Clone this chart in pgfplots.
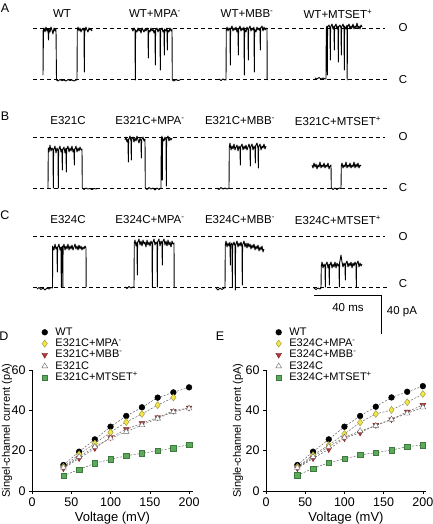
\documentclass[border=0pt]{standalone}
\usepackage{fontspec}
\setmainfont{Liberation Sans}
\usepackage{pgfplots}
\pgfplotsset{compat=1.18}
\definecolor{ylw}{HTML}{F2E64A}
\definecolor{ylwd}{HTML}{9A9230}
\definecolor{mbb}{HTML}{B03A3A}
\definecolor{mbbd}{HTML}{7A2222}
\definecolor{grn}{HTML}{5DAA5D}
\definecolor{grnd}{HTML}{3B7A3B}
\newcommand{\fs}[1]{\fontsize{#1}{#1}\selectfont}
\pgfplotsset{
  tr/.style={black, line width=0.9pt, line join=round},
  dl/.style={black, line width=0.6pt, dash pattern=on 4pt off 3pt},
  fit/.style={black!65, line width=0.45pt, dash pattern=on 2pt off 1.5pt, forget plot},
  sWT/.style={only marks, mark=*, mark size=2.9pt, mark options={fill=black, draw=black}},
  sMPA/.style={only marks, mark=diamond*, mark size=3.5pt, mark options={fill=ylw, draw=ylwd, line width=0.4pt}},
  sMBB/.style={only marks, mark=triangle*, mark size=3.3pt, mark options={fill=mbb, draw=mbbd, rotate=180, line width=0.4pt}},
  sCYS/.style={only marks, mark=triangle*, mark size=3.3pt, mark options={fill=white, draw=black!60, line width=0.4pt}},
  sMTS/.style={only marks, mark=square*, mark size=2.7pt, mark options={fill=grn, draw=grnd, line width=0.4pt}},
  ivaxis/.style={
    scale only axis, height=121pt,
    xmin=0, ymin=0, ymax=60,
    axis x line*=bottom, axis y line*=left,
    axis line style={line width=0.6pt},
    tick align=outside, major tick length=3pt,
    tick style={line width=0.6pt, black},
    xtick={0,50,100,150,200}, ytick={0,20,40,60},
    /pgf/number format/assume math mode=true,
    tick label style={font=\fs{12.5}},
    xlabel={Voltage (mV)},
    every axis x label/.style={at={(axis description cs:0.5,-0.222)}, anchor=center, font=\fs{13}},
    clip=false,
    legend style={at={(axis description cs:0.06,1.36)}, anchor=north west,
      draw=none, fill=none, inner sep=0pt, row sep=0pt,
      font=\fs{11},
      nodes={inner sep=0.3pt, text height=8.2pt, text depth=2.5pt},
      /tikz/every odd column/.append style={column sep=7.5pt}},
    legend cell align=left,
  },
}
\begin{document}
\begin{tikzpicture}
\useasboundingbox (0,0) rectangle (432pt,-524pt);
% ---------------- traces A, B, C ----------------
\begin{axis}[at={(0pt,0pt)}, anchor=north west, scale only axis,
  width=432pt, height=330pt, xmin=0, xmax=432, ymin=0, ymax=330,
  y dir=reverse, hide axis, clip=false]
\node[font=\fs{12.5}] at (axis cs:5,8) {A};
\node[font=\fs{12.5}] at (axis cs:5,116) {B};
\node[font=\fs{12.5}] at (axis cs:5,215) {C};
\begin{scope}[every node/.style={font=\fs{11.5}}]
\node at (axis cs:62,14) {WT};
\node at (axis cs:155,14) {WT+MPA\textsuperscript{-}};
\node at (axis cs:247,14) {WT+MBB\textsuperscript{-}};
\node at (axis cs:338,14) {WT+MTSET\textsuperscript{+}};
\node at (axis cs:68,121) {E321C};
\node at (axis cs:150,121) {E321C+MPA\textsuperscript{-}};
\node at (axis cs:240,121) {E321C+MBB\textsuperscript{-}};
\node at (axis cs:338,121) {E321C+MTSET\textsuperscript{+}};
\node at (axis cs:68,220) {E324C};
\node at (axis cs:150,220) {E324C+MPA\textsuperscript{-}};
\node at (axis cs:240,220) {E324C+MBB\textsuperscript{-}};
\node at (axis cs:338,220) {E324C+MTSET\textsuperscript{+}};
\node at (axis cs:403,28) {O};
\node at (axis cs:403,80) {C};
\node at (axis cs:403,137) {O};
\node at (axis cs:403,188) {C};
\node at (axis cs:403,237) {O};
\node at (axis cs:403,284) {C};
\node at (axis cs:348,308) {40 ms};
\node at (axis cs:402,312) {40 pA};
\end{scope}
\addplot[dl] coordinates {(33,28)(385,28)};
\addplot[dl] coordinates {(33,79.5)(388,79.5)};
\addplot[dl] coordinates {(33,137)(385,137)};
\addplot[dl] coordinates {(33,188)(388,188)};
\addplot[dl] coordinates {(33,236)(385,236)};
\addplot[dl] coordinates {(33,287)(388,287)};
\addplot[black, line width=0.7pt] coordinates {(314,295)(381,295)(381,334)};
% A1 WT
\addplot[tr] coordinates {(43,30)(43,75)(43.5,30)(44,28)(45,32)(46,27)(47,31)(48,29)(48.5,40)(49,29)(50,32)(51,27)(52,30)(53,34)(54,28)(55,31)(56,29)(56.5,80)(58,81)(60,79.5)(62,80.5)(64,80)(66,81)(68,79.5)(70,80.5)(72,80)(74,81)(76,80)(77,80)(77.3,30)(78,27)(79,31)(80,28)(81,32)(82,29)(83,30)(84,28)(84.3,72)(84.6,29)(85,31)(86,27)(87,30)(88,32)(89,28)(90,30)(91,29)(92,31)};
% A2 WT+MPA
\addplot[tr] coordinates {(132,29)(133,31)(134,28)(135,30)(135.3,80)(135.6,30)(137,32)(138,28)(139,31)(140,29)(141,33)(142,28)(143,30)(144,32)(145,29)(146,31)(147,28)(148,30)(148.3,58)(148.6,30)(150,32)(151,28)(152,31)(153,29)(154,33)(155,30)(155.3,65)(155.6,30)(157,28)(158,32)(159,29)(160,31)(160.3,70)(160.6,30)(162,28)(163,32)(164,30)(164.3,55)(164.6,29)(166,31)(167,28)(167.3,50)(167.6,30)(169,32)(170,28)(171,31)(172,29)(172.3,80)(174,81)(176,79.5)(178,80.5)(180,80)};
% A3 WT+MBB
\addplot[tr] coordinates {(219,79)(221,80.5)(223,79)(225,80)(226,80)(226.3,30)(227,27)(228,31)(229,28)(230,30)(230.3,65)(230.6,29)(232,26)(233,31)(234,28)(235,30)(236,27)(237,32)(238,29)(238.3,55)(238.6,29)(240,26)(241,31)(242,28)(243,30)(244,27)(244.3,75)(244.6,29)(246,32)(247,27)(248,30)(248.3,60)(248.6,29)(250,26)(251,31)(252,28)(253,30)(254,27)(254.3,72)(254.6,29)(256,32)(257,27)(258,30)(259,28)(260,31)(260.3,50)(260.6,28)(262,26)(263,31)(264,27)(265,30)(266,28)(267,29)(267.2,80)};
% A4 WT+MTSET
\addplot[tr] coordinates {(315,78)(317,79)(319,77.5)(321,79)(323,78)(325,79)(326,79)(326.3,28)(327,26)(327.3,75)(327.6,27)(329,25)(330,28)(330.3,60)(330.6,27)(332,24)(333,29)(334,26)(334.3,50)(334.6,27)(336,24)(337,29)(338,26)(338.3,62)(338.6,27)(340,25)(341,28)(341.3,55)(341.6,27)(343,24)(344,28)(344.3,70)(344.6,26)(346,29)(347,25)(347.2,80)(347.5,27)(349,24)(350,29)(351,26)(352,28)(353,24)(354,29)(355,26)(356,28)(357,23)(358,28)(359,26)(360,29)(361,25)(362,27)};
% B1 E321C
\addplot[tr] coordinates {(48,188)(48.3,148)(49,152)(50,145)(51,151)(52,148)(53,150)(53.3,188)(53.6,150)(55,146)(56,153)(57,148)(58,151)(58.3,188)(58.6,150)(60,146)(61,152)(62,149)(62.3,170)(62.6,150)(64,147)(65,153)(66,148)(66.3,172)(66.6,150)(68,146)(69,152)(70,148)(71,151)(72,146)(73,152)(74,149)(74.3,165)(74.6,150)(76,146)(77,152)(78,148)(79,151)(80,147)(81,150)(82,149)(82.3,188)(84,189.5)(86,188)(88,189)(90,188.5)(92,189.5)(94,188.5)(96,189)(97,188.5)};
% B2 E321C+MPA
\addplot[tr] coordinates {(125,140)(126,137)(127,142)(128,139)(128.3,162)(128.6,140)(130,136)(131,141)(131.3,160)(131.6,139)(133,137)(134,142)(135,138)(136,141)(137,136)(138,140)(139,143)(140,138)(141,141)(141.3,158)(141.6,140)(143,137)(144,141)(145,139)(145.3,188)(147,189.5)(149,187.5)(151,189)(153,188)(155,190)(157,188)(159,189.5)(161,188)(161.3,139)(162,136)(162.3,180)(162.6,138)(164,141)(165,137)(166,140)(166.3,186)(166.6,139)(168,136)(169,141)(170,138)(171,140)(172,138)};
% B3 E321C+MBB
\addplot[tr] coordinates {(217,188)(219,189.5)(221,187.5)(223,189)(225,188)(227,189)(229,188)(229.3,147)(230,143)(231,150)(232,146)(233,149)(234,144)(235,150)(236,147)(237,145)(238,151)(239,146)(240,149)(240.3,165)(240.6,147)(242,144)(243,150)(244,146)(245,149)(246,145)(247,150)(248,147)(249,144)(250,149)(250.3,166)(250.6,147)(252,144)(253,150)(254,146)(255,149)(255.3,163)(255.6,146)(257,143)(258,148)(258.3,168)(258.6,147)(260,144)(261,150)(262,146)(263,148)(264,144)(265,149)(266,146)};
% B4 E321C+MTSET
\addplot[tr] coordinates {(312,165)(313,168)(314,163)(315,167)(316,164)(317,169)(318,165)(319,167)(320,162)(321,168)(322,165)(323,167)(324,163)(325,168)(326,165)(327,167)(328,163)(329,169)(330,166)(331,165)(331.3,188)(333,189.5)(335,188)(337,189.5)(339,188)(341,188.5)(341.3,166)(342,163)(343,168)(344,165)(345,167)(346,162)(347,168)(348,165)(349,167)(350,163)(351,168)(352,165)(353,167)(354,162)(355,168)(356,164)(357,167)(358,163)(359,168)(360,165)(361,166)};
% C1 E324C
\addplot[tr] coordinates {(37,289)(39,287.5)(41,289.5)(43,288)(45,290)(47,288)(49,289)(51,287.5)(52.5,288)(52.7,246)(54,250)(55,244)(56,249)(57,247)(57.3,272)(57.6,248)(59,244)(60,250)(61,247)(61.3,287)(61.6,249)(62.5,246)(62.8,287)(63.1,248)(64,244)(65,250)(66,246)(67,249)(68,244)(69,250)(70,246)(71,249)(72,245)(73,250)(74,247)(75,244)(76,249)(77,246)(78,250)(79,245)(80,249)(81,246)(82,250)(83,247)(84,249)(85,246)(86,248)(86.2,287)};
% C2 E324C+MPA
\addplot[tr] coordinates {(125,287)(127,288.5)(129,286.5)(131,288)(133,287)(134,287)(134.3,243)(135,240)(136,246)(137,242)(137.3,275)(137.6,243)(139,239)(140,245)(141,241)(142,246)(143,240)(144,244)(145,242)(146,247)(147,240)(148,245)(149,242)(150,246)(151,241)(152,244)(152.3,287)(152.6,243)(154,239)(155,245)(156,242)(157,244)(157.3,287)(157.6,242)(159,239)(160,246)(161,241)(162,244)(162.3,265)(162.6,242)(164,239)(165,245)(166,241)(167,246)(168,240)(169,245)(170,242)(171,247)(172,241)(173,244)(174,243)(174.2,287)};
% C3 E324C+MBB
\addplot[tr] coordinates {(216,288)(218,290)(220,288)(222,289.5)(224,288)(225,288)(225.3,245)(226,241)(227,247)(228,243)(229,246)(230,242)(230.3,265)(230.6,245)(232,243)(232.3,287)(232.6,246)(234,242)(235,246)(235.3,290)(235.6,245)(237,241)(238,247)(239,243)(240,246)(241,242)(242,247)(242.3,285)(242.6,245)(244,241)(245,247)(246,243)(247,248)(248,243)(249,247)(250,244)(251,249)(252,245)(253,248)(254,244)(255,250)(256,246)(257,249)(258,245)(259,251)(260,247)(261,250)(262,246)(263,252)(264,249)};
% C4 E324C+MTSET
\addplot[tr] coordinates {(314,288)(316,289.5)(318,288)(320,289)(321,288)(321.3,266)(322,262)(323,268)(324,264)(325,267)(325.3,287)(325.6,265)(327,262)(328,268)(329,264)(329.3,285)(329.6,266)(331,262)(332,268)(333,264)(334,267)(335,262)(336,268)(337,263)(338,266)(339,264)(339.3,287)(339.6,263)(341,255)(342,262)(343,267)(344,263)(345,266)(345.3,280)(345.6,264)(347,261)(348,267)(349,263)(350,266)(351,262)(352,268)(353,263)(354,266)(355,262)(356,265)(356.3,287)(356.6,264)(358,261)(359,267)(360,263)(361,266)(362,264)};
\end{axis}
% ---------------- panel D ----------------
\node[font=\fs{12.5}] at (4pt,-336pt) {D};
\begin{axis}[ivaxis, at={(32pt,-491pt)}, anchor=south west, width=161pt, xmax=205,
  ylabel={Singel-channel current (pA)},
  every axis y label/.style={at={(axis description cs:-0.155,0.5)}, rotate=90, anchor=center, font=\fs{11}}]
\addplot[fit] coordinates {(40,12.9)(60,19.5)(80,25.6)(100,31.9)(120,37.2)(140,41.5)(160,46.3)(180,48.9)(200,51.4)};
\addplot[fit] coordinates {(40,12.0)(60,18.2)(80,23.6)(100,29.1)(120,34.2)(140,38.2)(160,42.6)(180,46.4)};
\addplot[fit] coordinates {(40,11.2)(60,16.2)(80,21.2)(100,26.6)(120,30.6)(140,33.6)(160,36.5)(180,39.7)(200,41.3)};
\addplot[fit] coordinates {(40,11.7)(60,17.0)(80,22.0)(100,26.1)(120,29.4)(140,32.7)(160,36.0)(180,39.3)(200,41.0)};
\addplot[fit] coordinates {(40,7.6)(60,10.7)(80,13.7)(100,15.7)(120,17.5)(140,18.7)(160,20.0)(180,21.3)(200,23.0)};
\addplot[sWT] coordinates {(40,12.9)(60,19.5)(80,25.6)(100,31.9)(120,37.2)(140,41.5)(160,46.3)(180,48.9)(200,51.4)};
\addlegendentry{WT}
\addplot[sMPA] coordinates {(40,12.0)(60,18.2)(80,23.6)(100,29.1)(120,34.2)(140,38.2)(160,42.6)(180,46.4)};
\addlegendentry{E321C+MPA\textsuperscript{-}}
\addplot[sMBB] coordinates {(40,11.2)(60,16.2)(80,21.2)(100,26.6)(120,30.6)(140,33.6)(160,36.5)(180,39.7)(200,41.3)};
\addlegendentry{E321C+MBB\textsuperscript{-}}
\addplot[sCYS] coordinates {(40,11.7)(60,17.0)(80,22.0)(100,26.1)(120,29.4)(140,32.7)(160,36.0)(180,39.3)(200,41.0)};
\addlegendentry{E321C}
\addplot[sMTS] coordinates {(40,7.6)(60,10.7)(80,13.7)(100,15.7)(120,17.5)(140,18.7)(160,20.0)(180,21.3)(200,23.0)};
\addlegendentry{E321C+MTSET\textsuperscript{+}}
\end{axis}
% ---------------- panel E ----------------
\node[font=\fs{12.5}] at (220pt,-336pt) {E};
\begin{axis}[ivaxis, at={(266pt,-491pt)}, anchor=south west, width=160pt, xmax=204,
  ylabel={Single-channel current (pA)},
  every axis y label/.style={at={(axis description cs:-0.175,0.5)}, rotate=90, anchor=center, font=\fs{11}}]
\addplot[fit] coordinates {(40,12.9)(60,19.5)(80,25.6)(100,31.9)(120,37.2)(140,41.8)(160,46.4)(180,49.2)(200,52.0)};
\addplot[fit] coordinates {(40,12.0)(60,17.8)(80,22.8)(100,28.3)(120,34.0)(140,38.2)(160,40.2)(180,44.0)(200,48.1)};
\addplot[fit] coordinates {(40,11.2)(60,16.2)(80,20.7)(100,26.1)(120,28.9)(140,32.7)(160,35.5)(180,39.3)(200,42.6)};
\addplot[fit] coordinates {(40,11.6)(60,17.0)(80,22.0)(100,26.6)(120,29.8)(140,32.4)(160,35.5)(180,38.5)(200,41.5)};
\addplot[fit] coordinates {(40,7.8)(60,11.2)(80,14.0)(100,15.9)(120,17.9)(140,19.0)(160,20.3)(180,22.0)(200,22.8)};
\addplot[sWT] coordinates {(40,12.9)(60,19.5)(80,25.6)(100,31.9)(120,37.2)(140,41.8)(160,46.4)(180,49.2)(200,52.0)};
\addlegendentry{WT}
\addplot[sMPA] coordinates {(40,12.0)(60,17.8)(80,22.8)(100,28.3)(120,34.0)(140,38.2)(160,40.2)(180,44.0)(200,48.1)};
\addlegendentry{E324C+MPA\textsuperscript{-}}
\addplot[sMBB] coordinates {(40,11.2)(60,16.2)(80,20.7)(100,26.1)(120,28.9)(140,32.7)(160,35.5)(180,39.3)(200,42.6)};
\addlegendentry{E324C+MBB\textsuperscript{-}}
\addplot[sCYS] coordinates {(40,11.6)(60,17.0)(80,22.0)(100,26.6)(120,29.8)(140,32.4)(160,35.5)(180,38.5)(200,41.5)};
\addlegendentry{E324C}
\addplot[sMTS] coordinates {(40,7.8)(60,11.2)(80,14.0)(100,15.9)(120,17.9)(140,19.0)(160,20.3)(180,22.0)(200,22.8)};
\addlegendentry{E324C+MTSET\textsuperscript{+}}
\end{axis}
\end{tikzpicture}
\end{document}
